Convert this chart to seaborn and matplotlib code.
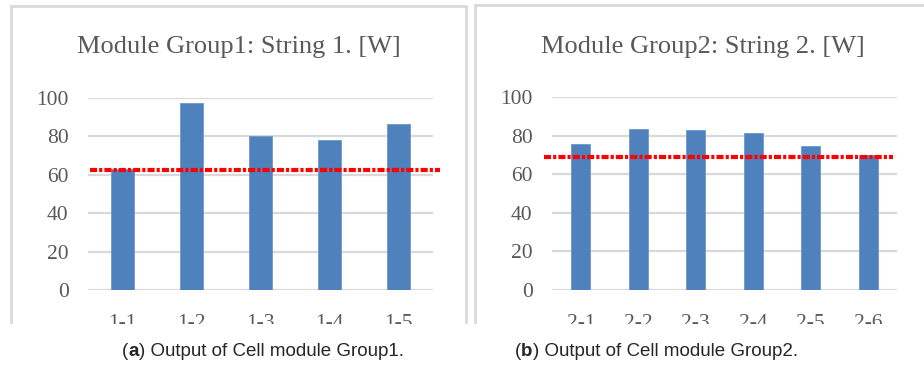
import matplotlib
matplotlib.use("Agg")
import matplotlib.pyplot as plt
from matplotlib.patches import Rectangle
import seaborn as sns
import pandas as pd

# ---- data ----
cats1 = ["1-1", "1-2", "1-3", "1-4", "1-5"]
vals1 = [63, 97.5, 80, 78, 86.5]
ref1 = 62.3
title1 = "Module Group1: String 1. [W]"
caption1 = "Output of Cell module Group1."

cats2 = ["2-1", "2-2", "2-3", "2-4", "2-5", "2-6"]
vals2 = [75.4, 83.6, 82.8, 81.4, 74.7, 69.8]
ref2 = 69
title2 = "Module Group2: String 2. [W]"
caption2 = "Output of Cell module Group2."

yticks = [0, 20, 40, 60, 80, 100]

sns.set_style("white")
plt.rcParams["font.family"] = ["Liberation Serif", "DejaVu Serif"]

W, H = 924, 369
fig = plt.figure(figsize=(W / 100, H / 100), dpi=100)

BAR = "#4F81BD"
GRID = "#D9D9D9"
TXT = "#595959"


def px_ax(x0, x1, y_top, y_bot):
    return [x0 / W, 1 - y_bot / H, (x1 - x0) / W, (y_bot - y_top) / H]


def panel(rect, cats, vals, ref, title, title_x, xmin, xmax):
    ax = fig.add_axes(rect)
    df = pd.DataFrame({"cat": cats, "val": vals})
    sns.barplot(data=df, x="cat", y="val", color=BAR, width=0.33,
                saturation=1, edgecolor="#6C98CC", linewidth=0.6, ax=ax, zorder=3)
    ax.set_ylim(0, 100)
    ax.set_xlim(-0.5, len(cats) - 0.5)
    ax.set_yticks(yticks)
    ax.yaxis.grid(True, color=GRID, linewidth=1.6, zorder=0)
    ax.set_axisbelow(True)
    for s in ax.spines.values():
        s.set_visible(False)
    ax.tick_params(axis="both", length=0, colors=TXT, labelsize=15.5)
    ax.tick_params(axis="y", pad=14)
    ax.tick_params(axis="x", pad=17)
    ax.set_xlabel("")
    ax.set_ylabel("")
    ax.axhline(ref, xmin=xmin, xmax=xmax, color="#FF0000", linewidth=3.0,
               dashes=(1.7, 0.5, 0.75, 0.5), clip_on=False, zorder=5)
    fig.text(title_x / W, 1 - 47 / H, title, ha="center", va="center",
             fontsize=19, color=TXT)
    return ax


panel(px_ax(88, 433, 98, 290), cats1, vals1, ref1, title1, 239, 0.006, 1.02)
panel(px_ax(552, 897, 97, 290), cats2, vals2, ref2, title2, 703, -0.023, 0.988)

# panel frames
fig.add_artist(Rectangle((11 / W, 1 - 340 / H), (466 - 11) / W, (340 - 6) / H,
                         transform=fig.transFigure, fill=False,
                         edgecolor=GRID, linewidth=2, zorder=2))
fig.add_artist(Rectangle((475 / W, 1 - 340 / H), (940 - 475) / W, (340 - 5) / H,
                         transform=fig.transFigure, fill=False,
                         edgecolor=GRID, linewidth=2, zorder=2))
# crop (panels are cut off at the bottom)
fig.add_artist(Rectangle((0, 0), 1, 1 - 324 / H, transform=fig.transFigure,
                         facecolor="white", edgecolor="none", zorder=10))

# captions
for x, letter, cap in [(122, "a", caption1), (515, "b", caption2)]:
    t1 = fig.text(x / W, 1 - 351 / H, "(", fontsize=13.5, family="Liberation Sans",
                  ha="left", va="center", zorder=11)
    fig.canvas.draw()
    r = fig.canvas.get_renderer()
    bb = t1.get_window_extent(r)
    t2 = fig.text(bb.x1 / W, 1 - 351 / H, letter, fontsize=13.5, fontweight="bold",
                  family="Liberation Sans", ha="left", va="center", zorder=11)
    bb2 = t2.get_window_extent(r)
    fig.text(bb2.x1 / W, 1 - 351 / H, ") " + cap, fontsize=13.5,
             family="Liberation Sans", ha="left", va="center", zorder=11)

fig.savefig("out.png", dpi=100)
